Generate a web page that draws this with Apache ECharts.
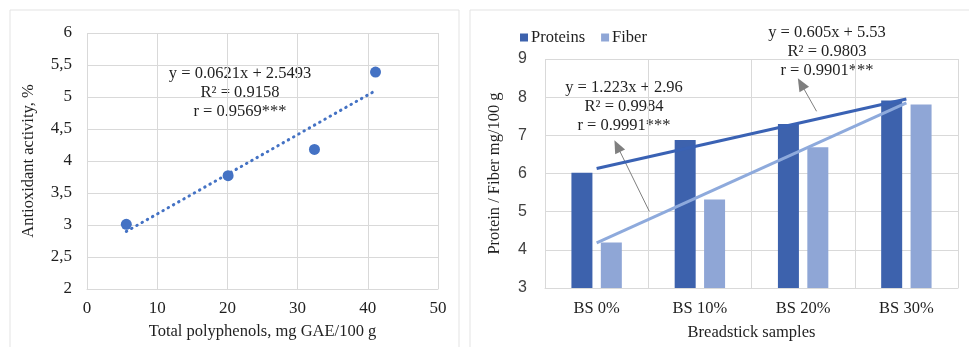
<!DOCTYPE html>
<html>
<head>
<meta charset="utf-8">
<script src="https://cdn.jsdelivr.net/npm/echarts@6/dist/echarts.min.js"></script>
<style>
  html, body { margin: 0; padding: 0; background: #fff; }
  #chart { width: 969px; height: 347px; }
</style>
</head>
<body>
<div id="chart"></div>
<script>
// left panel: antioxidant activity vs total polyphenols
const polyphenols = [5.6, 20.1, 32.4, 41.1]
const antioxidant = [3.01, 3.77, 4.18, 5.39]
const aoTrendX = [5.6, 41.1]
const aoTrendY = [2.9, 5.1]

// right panel: proteins / fiber by sample
const samples = ['BS 0%', 'BS 10%', 'BS 20%', 'BS 30%']
const proteins = [6.02, 6.88, 7.30, 7.91]
const fiber = [4.19, 5.32, 6.69, 7.81]
// trend lines on sample number 1..4
const proteinTrend = [[1, 6.13], [4, 7.95]]
const fiberTrend = [[1, 4.18], [4, 7.85]]
// arrows from trend line to the equation text
const fiberArrow = [[1.51, 5.01], [1.20, 6.72]]
const proteinArrow = [[3.13, 7.63], [2.98, 8.35]]

const serif = 'Liberation Serif'
const sans = 'Liberation Sans'
const fs = 16.5
const txt = '#1f1f1f'
const gridCol = '#d9d9d9'
const protCol = '#3d62ad'
const fibCol = '#8fa6d6'

const chart = echarts.init(document.getElementById('chart'), null, { renderer: 'canvas' })

const arrow = (pts) => ({
  silent: true,
  symbol: ['none', 'triangle'],
  symbolSize: [11, 13],
  label: { show: false },
  lineStyle: { color: '#7f7f7f', width: 1, type: 'solid' },
  emphasis: { disabled: true },
  data: [[{ coord: pts[0] }, { coord: pts[1] }]]
})

const eqFont = fs + 'px "Liberation Serif"'

const option = {
  animation: false,
  backgroundColor: '#fff',
  textStyle: { fontFamily: serif, color: txt },
  graphic: [
    { type: 'rect', shape: { x: 10, y: 10, width: 449, height: 400 }, style: { fill: 'none', stroke: '#e3e3e3', lineWidth: 1 } },
    { type: 'rect', shape: { x: 470, y: 10, width: 600, height: 400 }, style: { fill: 'none', stroke: '#e3e3e3', lineWidth: 1 } },
    { type: 'text', x: 240, y: 64, style: { text: 'y = 0.0621x + 2.5493\nR² = 0.9158\nr = 0.9569***', textAlign: 'center', font: eqFont, lineHeight: 19, fill: txt } },
    { type: 'text', x: 624, y: 78, style: { text: 'y = 1.223x + 2.96\nR² = 0.9984\nr = 0.9991***', textAlign: 'center', font: eqFont, lineHeight: 19, fill: txt } },
    { type: 'text', x: 827, y: 23, style: { text: 'y = 0.605x + 5.53\nR² = 0.9803\nr = 0.9901***', textAlign: 'center', font: eqFont, lineHeight: 19, fill: txt } }
  ],
  legend: {
    data: ['Proteins', 'Fiber'],
    left: 515,
    top: 24,
    itemWidth: 8,
    itemHeight: 8,
    itemGap: 16,
    icon: 'rect',
    textStyle: { fontFamily: serif, fontSize: fs, color: txt, padding: [0, 0, 0, -2] }
  },
  grid: [
    { left: 87, top: 33, width: 351, height: 256 },
    { left: 545, top: 59, width: 413, height: 229 }
  ],
  xAxis: [
    {
      gridIndex: 0, type: 'value', min: 0, max: 50, interval: 10,
      name: 'Total polyphenols, mg GAE/100 g', nameLocation: 'middle', nameGap: 34,
      nameTextStyle: { fontFamily: serif, fontSize: fs, color: txt },
      axisLine: { show: true, lineStyle: { color: gridCol } },
      axisTick: { show: false },
      axisLabel: { fontFamily: serif, fontSize: 17, color: txt, margin: 11 },
      splitLine: { show: true, lineStyle: { color: gridCol } }
    },
    {
      gridIndex: 1, type: 'category', data: samples,
      name: 'Breadstick samples', nameLocation: 'middle', nameGap: 36,
      nameTextStyle: { fontFamily: serif, fontSize: fs, color: txt },
      axisLine: { show: true, lineStyle: { color: gridCol } },
      axisTick: { show: false },
      axisLabel: { fontFamily: serif, fontSize: fs, color: txt, margin: 12 },
      splitLine: { show: true, lineStyle: { color: gridCol } }
    },
    {
      gridIndex: 1, type: 'value', min: 0.5, max: 4.5, show: false
    }
  ],
  yAxis: [
    {
      gridIndex: 0, type: 'value', min: 2, max: 6, interval: 0.5,
      name: 'Antioxidant activity, %', nameLocation: 'middle', nameGap: 50,
      nameTextStyle: { fontFamily: serif, fontSize: fs, color: txt },
      axisLine: { show: false },
      axisTick: { show: false },
      axisLabel: { fontFamily: serif, fontSize: 17, color: txt, margin: 15, formatter: v => String(v).replace('.', ',') },
      splitLine: { show: true, lineStyle: { color: gridCol } }
    },
    {
      gridIndex: 1, type: 'value', min: 3, max: 9, interval: 1,
      name: 'Protein / Fiber mg/100 g', nameLocation: 'middle', nameGap: 42,
      nameTextStyle: { fontFamily: serif, fontSize: fs, color: txt },
      axisLine: { show: false },
      axisTick: { show: false },
      axisLabel: { fontFamily: sans, fontSize: 16, color: '#404040', margin: 18 },
      splitLine: { show: true, lineStyle: { color: gridCol } }
    }
  ],
  series: [
    {
      name: 'Trend AO', type: 'line', xAxisIndex: 0, yAxisIndex: 0,
      data: aoTrendX.map((x, i) => [x, aoTrendY[i]]),
      showSymbol: false, symbol: 'none',
      lineStyle: { color: '#4472c4', width: 3, type: [0.5, 5.5], cap: 'round' },
      z: 3
    },
    {
      name: 'Antioxidant', type: 'scatter', xAxisIndex: 0, yAxisIndex: 0,
      data: polyphenols.map((x, i) => [x, antioxidant[i]]),
      symbolSize: 11,
      itemStyle: { color: '#4472c4', opacity: 1 },
      z: 4
    },
    {
      name: 'Proteins', type: 'bar', xAxisIndex: 1, yAxisIndex: 1,
      data: proteins, barWidth: 21, barGap: '40%',
      itemStyle: { color: protCol }
    },
    {
      name: 'Fiber', type: 'bar', xAxisIndex: 1, yAxisIndex: 1,
      data: fiber, barWidth: 21, barGap: '40%',
      itemStyle: { color: fibCol }
    },
    {
      name: 'Proteins trend', type: 'line', xAxisIndex: 2, yAxisIndex: 1,
      data: proteinTrend, showSymbol: false, symbol: 'none',
      lineStyle: { color: '#3a62b4', width: 3 },
      markLine: arrow(proteinArrow),
      z: 5
    },
    {
      name: 'Fiber trend', type: 'line', xAxisIndex: 2, yAxisIndex: 1,
      data: fiberTrend, showSymbol: false, symbol: 'none',
      lineStyle: { color: '#8eaadc', width: 3 },
      markLine: arrow(fiberArrow),
      z: 5
    }
  ]
}

chart.setOption(option)
</script>
</body>
</html>
